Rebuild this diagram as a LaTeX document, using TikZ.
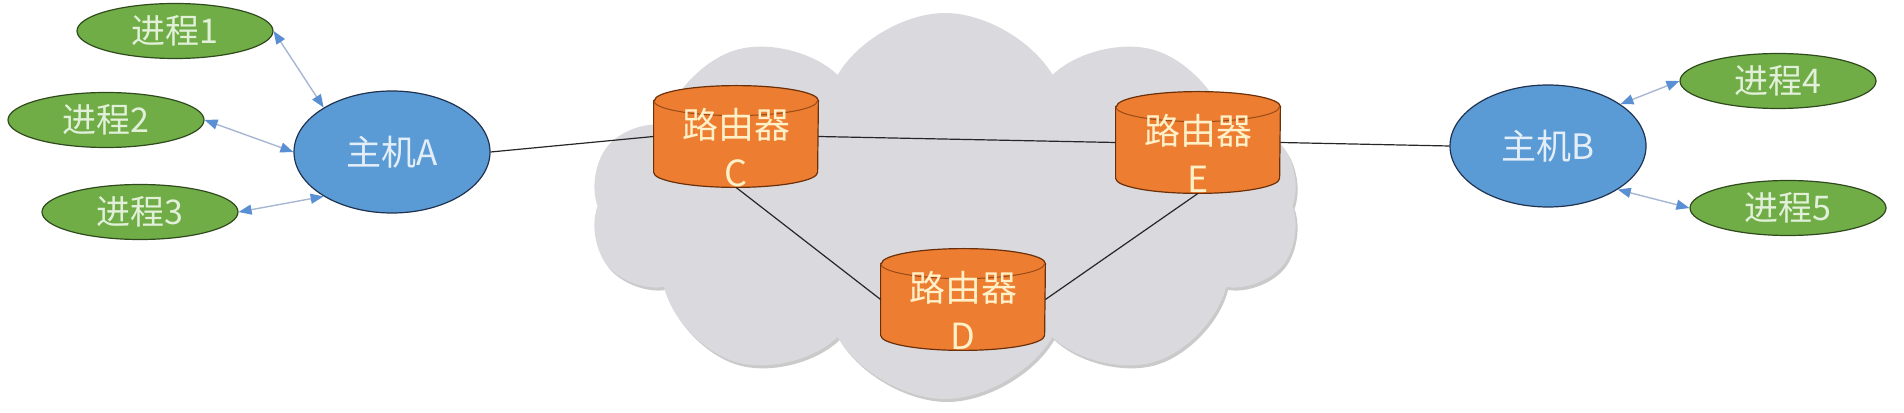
\documentclass[tikz,border=0pt]{standalone}
\usepackage{fontspec}
\setmainfont{Carlito}
\newfontfamily\cjk{Noto Sans CJK SC}
\usetikzlibrary{shapes.geometric,shapes.symbols,shadows,arrows.meta}

\definecolor{cloudgray}{HTML}{DAD9DE}
\definecolor{procgreen}{HTML}{70AD47}
\definecolor{procedge}{HTML}{2F4A1C}
\definecolor{proctext}{HTML}{E2F0D9}
\definecolor{hostblue}{HTML}{5B9BD5}
\definecolor{hostedge}{HTML}{1F3250}
\definecolor{hosttext}{HTML}{E4EEF9}
\definecolor{routerorange}{HTML}{ED7D31}
\definecolor{routeredge}{HTML}{6B300A}
\definecolor{routerrim}{HTML}{9A4A16}
\definecolor{routertext}{HTML}{FFF0C8}
\definecolor{arrowline}{HTML}{A7B7D2}
\definecolor{arrowtip}{HTML}{5B8FD3}

\begin{document}
\begin{tikzpicture}[x=0.5pt,y=0.5pt,
    proc/.style={ellipse,draw=procedge,fill=procgreen,line width=0.6pt,inner sep=0pt,
      minimum width=98pt,minimum height=27.5pt,text=proctext,font=\cjk\fontsize{17pt}{20pt}\selectfont},
    host/.style={ellipse,draw=hostedge,fill=hostblue,line width=0.6pt,inner sep=0pt,
      minimum width=98pt,minimum height=61pt,text=hosttext,font=\cjk\fontsize{17.5pt}{21pt}\selectfont},
    routerbody/.style={rectangle,inner sep=0pt,minimum width=82pt,minimum height=50.5pt},
    routerlabel/.style={align=center,inner sep=0pt,text=routertext,
      font=\cjk\fontsize{18pt}{24pt}\selectfont},
    link/.style={black!85,line width=0.6pt},
    duplex/.style={arrowline,line width=0.7pt,
      {Triangle[length=6.5pt,width=5pt,color=arrowtip,fill=arrowtip]}-{Triangle[length=6.5pt,width=5pt,color=arrowtip,fill=arrowtip]}}]
\useasboundingbox (0,0) rectangle (1904,412);

% the network cloud
\node[cloud,cloud puffs=10,cloud puff arc=120,cloud ignores aspect,
  minimum width=355pt,minimum height=193pt,fill=cloudgray,
  drop shadow={shadow xshift=1pt,shadow yshift=-1.5pt,fill=black!35,opacity=0.6}] (net) at (945,206) {};

% routers
\node[routerbody] (C) at (736,275.5) {};
\node[routerbody] (D) at (963,112.5) {};
\node[routerbody] (E) at (1198,269.5) {};
\foreach \r in {C,D,E}{
  \draw[routeredge,line width=0.6pt,fill=routerorange]
    ([yshift=-7.5pt]\r.north west) -- ([yshift=7.5pt]\r.south west)
    arc[start angle=180,end angle=360,x radius=41pt,y radius=7.5pt]
    -- ([yshift=-7.5pt]\r.north east)
    arc[start angle=0,end angle=180,x radius=41pt,y radius=7.5pt] -- cycle;
  \draw[routerrim,line width=0.5pt] ([yshift=-7.5pt]\r.north west)
    arc[start angle=180,end angle=360,x radius=41pt,y radius=7.5pt];
}
\node[routerlabel] (Ctxt) at ([yshift=-5.5pt]C.center) {路由器\\C};
\node[routerlabel] (Dtxt) at ([yshift=-5.5pt]D.center) {路由器\\D};
\node[routerlabel] (Etxt) at ([yshift=-5.5pt]E.center) {路由器\\E};

% hosts and processes
\node[host] (A) at (392,260) {主机A};
\node[host] (B) at (1548,266) {主机B};
\node[proc] (P1) at (175,381) {进程1};
\node[proc] (P2) at (106,292) {进程2};
\node[proc] (P3) at (140,200) {进程3};
\node[proc] (P4) at (1778,331) {进程4};
\node[proc] (P5) at (1788,204) {进程5};

% links
\draw[link] (A.east) -- (C.west);
\draw[link] (C.east) -- (E.west);
\draw[link] (C.south) -- (D.west);
\draw[link] (E.south) -- (D.east);
\draw[link] (E.east) -- (B.west);

% process <-> host
\draw[duplex] (P1.east) -- (A.147);
\draw[duplex] (P2.east) -- (A.west);
\draw[duplex] (P3.east) -- (A.213);
\draw[duplex] (B.30) -- (P4.west);
\draw[duplex] (B.-32) -- (P5.west);
\end{tikzpicture}
\end{document}
